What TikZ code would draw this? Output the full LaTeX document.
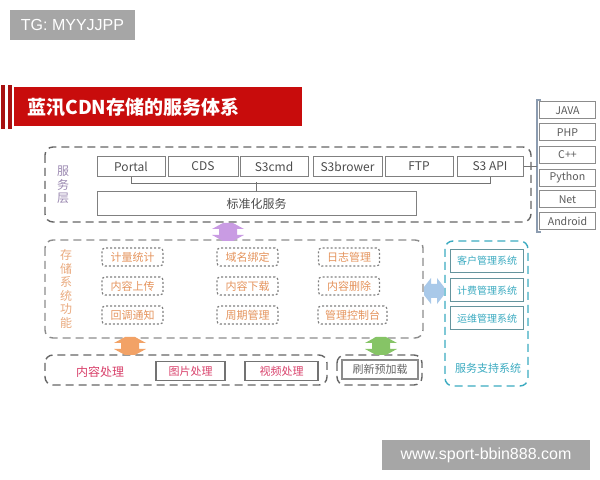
\documentclass[tikz,border=0pt]{standalone}
\usepackage{fontspec}
\setmainfont{Noto Sans CJK SC}
\newfontfamily\wmfont{Liberation Sans}

\definecolor{titlered}{HTML}{C80C0C}
\definecolor{stripered}{HTML}{A81010}
\definecolor{wmgray}{HTML}{A6A6A6}
\definecolor{layerpurple}{HTML}{9A88B0}
\definecolor{storeorange}{HTML}{E4935C}
\definecolor{supportteal}{HTML}{3AAAC0}
\definecolor{procred}{HTML}{D8406A}
\definecolor{bracketgray}{HTML}{8C9CB0}
\definecolor{blobpurple}{HTML}{C99BE3}
\definecolor{blobblue}{HTML}{A9C9E9}
\definecolor{bloborange}{HTML}{F2A266}
\definecolor{blobgreen}{HTML}{86C466}

\tikzset{
  wmbox/.style={fill=wmgray, text=white, inner sep=0pt, font=\wmfont\fontsize{8}{8}\selectfont},
  outerdash/.style={draw=black!60, line width=0.7pt, rounded corners=4pt, dash pattern=on 4pt off 2.5pt},
  svcbox/.style={draw=black!50, line width=0.5pt, minimum height=10pt, inner sep=0pt, text=black!70, font=\fontsize{6}{6}\selectfont},
  langbox/.style={draw=black!45, line width=0.5pt, minimum width=28pt, minimum height=8.5pt, inner sep=0pt, text=black!65, font=\fontsize{5.3}{5.3}\selectfont},
  funcbox/.style={draw=black!50, line width=0.6pt, dash pattern=on 1pt off 1pt, rounded corners=1.5pt, minimum width=30.5pt, minimum height=9pt, inner sep=0pt, text=storeorange, font=\fontsize{5.5}{5.5}\selectfont},
  supbox/.style={draw=supportteal!60!black!70, line width=0.5pt, minimum width=36.5pt, minimum height=11.5pt, inner sep=0pt, text=supportteal, font=\fontsize{5}{5}\selectfont},
  procbox/.style={draw=black!55, line width=0.6pt, minimum height=9.5pt, inner sep=0pt, font=\fontsize{5.5}{5.5}\selectfont},
  vlabel/.style={align=center, font=\fontsize{6}{6.8}\selectfont},
  % fat two-way arrows between the layers
  vblob/.pic={\path[pic actions] (-5,-9) -- (5,-9) -- (16,-3) -- (9,-3) -- (9,3) -- (16,3) -- (5,9) -- (-5,9) -- (-16,3) -- (-9,3) -- (-9,-3) -- (-16,-3) -- cycle;},
  hblob/.pic={\path[pic actions] (-10,-4) -- (-3,-13) -- (-3,-7) -- (3,-7) -- (3,-13) -- (10,-4) -- (10,4) -- (3,13) -- (3,7) -- (-3,7) -- (-3,13) -- (-10,4) -- cycle;}
}

\begin{document}
\begin{tikzpicture}[x=0.5pt, y=-0.5pt]
    \useasboundingbox (0,0) rectangle (600,480);

    % watermarks
    \node[wmbox, minimum width=62.5pt, minimum height=15pt] (tgmark) at (72.5,25) {TG: MYYJJPP};
    \node[wmbox, minimum width=104pt, minimum height=15pt] (sitemark) at (486,455) {www.sport-bbin888.com};

    % title banner
    \fill[stripered] (1,85) rectangle (5,129);
    \fill[stripered] (8,85) rectangle (12,129);
    \fill[titlered] (14,87) rectangle (302,126);
    \node[anchor=west, text=white, inner sep=0pt, font=\fontsize{9.5}{9.5}\bfseries\selectfont] (title) at (27,107) {蓝汛CDN存储的服务体系};

    % service layer
    \draw[outerdash] (45,147) rectangle (531,222);
    \node[vlabel, text=layerpurple] (svclabel) at (63,185) {服\\务\\层};
    \node[svcbox, minimum width=34pt] (portal) at (131,166.5) {Portal};
    \node[svcbox, minimum width=35pt] (cds) at (203,166.5) {CDS};
    \node[svcbox, minimum width=34pt] (s3cmd) at (274,166.5) {S3cmd};
    \node[svcbox, minimum width=34.5pt] (s3brower) at (347.5,166.5) {S3brower};
    \node[svcbox, minimum width=34pt] (ftp) at (419,166.5) {FTP};
    \node[svcbox, minimum width=33pt] (s3api) at (490,166.5) {S3 API};
    \node[svcbox, minimum width=159.5pt, minimum height=12pt] (stdsvc) at (256.5,204) {标准化服务};
    \draw[black!55, line width=0.5pt] (portal.south) -- ++(0,7) -| (s3api.south);
    \draw[black!55, line width=0.5pt] (stdsvc.north) -- ++(0,-9);

    % client languages
    \coordinate (brtop) at (537,100);
    \coordinate (brbot) at (537,232);
    \node[langbox] (java) at (567.5,110.5) {JAVA};
    \node[langbox] (php) at (567.5,132.5) {PHP};
    \node[langbox] (cpp) at (567.5,155) {C++};
    \node[langbox] (python) at (567.5,178) {Python};
    \node[langbox] (net) at (567.5,199.5) {Net};
    \node[langbox] (android) at (567.5,221.5) {Android};
    \draw[bracketgray, line width=0.6pt] ([xshift=2pt]brtop) -- (brtop) -- (brbot) -- ([xshift=2pt]brbot);
    \draw[black!55, line width=0.5pt] (s3api.east) -- (s3api.east -| brtop);

    % storage functions
    \draw[outerdash, draw=black!45] (45,240) rectangle (423,338);
    \node[vlabel, text=storeorange!80] (storelabel) at (66,289) {存\\储\\系\\统\\功\\能};
    \node[funcbox] (meter) at (132.5,257) {计量统计};
    \node[funcbox] (domain) at (247.5,257) {域名绑定};
    \node[funcbox] (logmgr) at (349,257) {日志管理};
    \node[funcbox] (upload) at (132.5,286) {内容上传};
    \node[funcbox] (download) at (247.5,286) {内容下载};
    \node[funcbox] (delete) at (349,286) {内容删除};
    \node[funcbox] (callback) at (132.5,315) {回调通知};
    \node[funcbox] (cycle) at (247.5,315) {周期管理};
    \node[funcbox, minimum width=34.5pt] (console) at (352.5,315) {管理控制台};

    % service support
    \draw[outerdash, draw=supportteal] (445,241) rectangle (528,386);
    \node[supbox] (custsys) at (487,261) {客户管理系统};
    \node[supbox] (billsys) at (487,290.5) {计费管理系统};
    \node[supbox] (opsys) at (487,318.5) {运维管理系统};
    \node[text=supportteal, inner sep=0pt, font=\fontsize{5.5}{5.5}\selectfont] (suplabel) at (488,368) {服务支持系统};

    % content processing
    \draw[outerdash] (45,355) rectangle (327,385);
    \node[text=procred, inner sep=0pt, font=\fontsize{6}{6}\selectfont] (proclabel) at (100,372) {内容处理};
    \node[procbox, minimum width=34.5pt, text=procred] (imgproc) at (190.5,371) {图片处理};
    \node[procbox, minimum width=36.5pt, text=procred] (vidproc) at (281.5,371) {视频处理};
    \draw[outerdash] (337,355) rectangle (422,385);
    \node[procbox, minimum width=38pt, draw=black!45, text=black!60] (refresh) at (380,369.5) {刷新预加载};

    % link arrows
    \pic[fill=blobpurple] (svcblob) at (228,232) {vblob};
    \pic[fill=blobblue] (supblob) at (434,291) {hblob};
    \pic[fill=bloborange] (procblob) at (130,346) {vblob};
    \pic[fill=blobgreen] (refblob) at (381,346) {vblob};
\end{tikzpicture}
\end{document}
